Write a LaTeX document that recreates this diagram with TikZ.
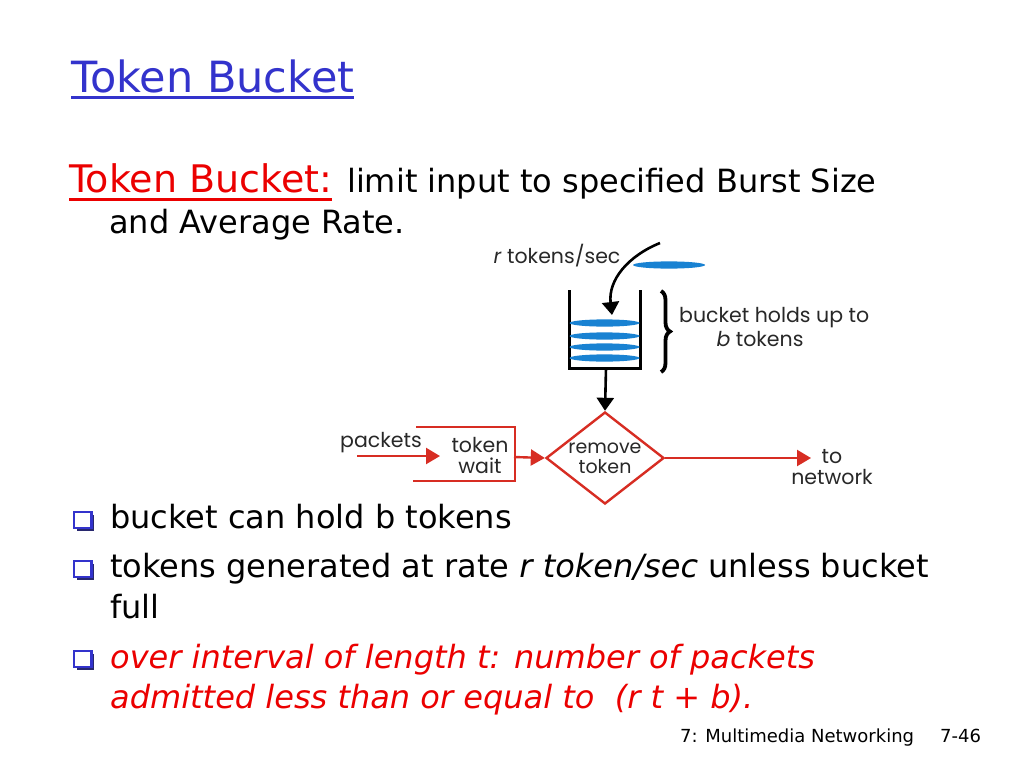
\documentclass[tikz,border=0pt]{standalone}
\usepackage{fontspec}
\setmainfont{DejaVu Sans}
\newfontfamily\diagfont{Poppins}
\usetikzlibrary{arrows.meta,shapes.geometric,decorations.pathreplacing}
\definecolor{titleblue}{RGB}{51,51,204}
\definecolor{textred}{RGB}{235,0,0}
\definecolor{diagred}{RGB}{215,45,35}
\definecolor{tokblue}{RGB}{25,130,210}
\definecolor{diagtext}{RGB}{40,40,40}
\definecolor{bulshadow}{RGB}{40,40,110}
\tikzset{
  txt/.style={inner sep=0pt, anchor=base west},
  big/.style={font=\fontsize{32}{40}\selectfont},
  dtext/.style={inner sep=0pt, text=diagtext, font=\diagfont\fontsize{20.5}{22}\selectfont},
  token/.style={fill=tokblue, draw=none},
  blackarrow/.style={draw=black, line width=2.6pt, -{Triangle[width=17pt,length=13pt]}},
  redarrow/.style={draw=diagred, line width=2.4pt, -{Triangle[width=16pt,length=14pt]}},
  redline/.style={draw=diagred, line width=2.4pt},
  bul/.pic={
    \fill[bulshadow] (2.5,2.5) rectangle (20,18.5);
    \filldraw[fill=white, draw=titleblue, line width=2.6pt] (0,0) rectangle (17.5,16);
  }
}
\begin{document}
\begin{tikzpicture}[x=1pt,y=-1pt]
\useasboundingbox (0,0) rectangle (1024,768);
\fill[white] (0,0) rectangle (1024,768);

% title
\node[txt, text=titleblue, font=\fontsize{43}{50}\selectfont] (title) at (71,92) {Token Bucket};
\draw[titleblue, line width=3pt] ([yshift=-5.5pt]title.base west) -- ([yshift=-5.5pt]title.base east);

% intro
\node[txt, text=textred, font=\fontsize{38}{44}\selectfont] (tb) at (69,192) {Token Bucket:};
\draw[textred, line width=3pt] ([yshift=-7pt]tb.base west) -- ([yshift=-7pt]tb.base east);
\node[txt, big] (lim) at (347,192) {limit input to specified Burst Size};
\node[txt, big] (avg) at (109,233) {and Average Rate.};

% bullets
\pic at (74,512) {bul};
\pic at (74,561) {bul};
\pic at (74,651) {bul};
\node[txt, big] (b1) at (110,528) {bucket can hold b tokens};
\node[txt, big] (b2) at (110,577) {tokens generated at rate \textit{r token/sec} unless bucket};
\node[txt, big] (b2b) at (110,618) {full};
\node[txt, big, text=textred, font=\itshape\fontsize{32}{40}\selectfont] (b3) at (110,668) {over interval of length t: number of packets};
\node[txt, big, text=textred, font=\itshape\fontsize{32}{40}\selectfont] (b3b) at (110,708) {admitted less than or equal to\ \ (r t + b).};

% footer
\node[txt, font=\fontsize{18}{20}\selectfont] (foot) at (680,742) {7: Multimedia Networking};
\node[txt, font=\fontsize{18}{20}\selectfont] (page) at (940,742) {7-46};

% ---- diagram ----
\node[dtext] (rate) at (557,256) {\textit{r} tokens/sec};
\fill[token] (669,265) ellipse [x radius=36, y radius=3.6];

% bucket
\draw[black, line width=3pt] (569,290) -- (569,368) -- (640,368) -- (640,290);
\foreach \yy in {323,336,347,358}
  \fill[token] (604.5,\yy) ellipse [x radius=35, y radius=3.6];
\coordinate (arcstart) at (660,243);
\coordinate (arcend) at (612,315);
\draw[blackarrow] (arcstart) .. controls (628,256) and (608,280) .. (arcend);
\coordinate (bucketbot) at (606,368);

% brace
\draw[black, line width=3.8pt, decorate, decoration={brace, amplitude=9pt}] (661,291) -- (661,372);
\node[dtext, anchor=west] (holds) at (679,318) {bucket holds up to};
\node[dtext] (btok) at (760,339) {\textit{b} tokens};

% remove token
\node[draw=diagred, line width=2.4pt, shape=diamond, minimum width=118pt, minimum height=92pt, inner sep=0pt] (rem) at (605,458) {};
\node[dtext, align=center, font=\diagfont\fontsize{19}{20}\selectfont] (remtxt) at (rem.center) {remove\\token};
\draw[blackarrow] (bucketbot) -- (rem.north);

% token wait
\node[dtext, align=center, font=\diagfont\fontsize{20.5}{21}\selectfont] (wait) at (480,456) {token\\wait};
\draw[redline] (416,427) -- (515,427) -- (515,481) -- (413,481);
\coordinate (waitout) at (514,457);
\coordinate (pkin) at (357,456);
\coordinate (pktip) at (440,456);
\node[dtext] (pk) at (381,443) {packets};
\draw[redarrow] (pkin) -- (pktip);
\draw[redarrow] (waitout) -- (rem.west);

% to network
\coordinate (nettip) at (811,458);
\draw[redarrow] (rem.east) -- (nettip);
\node[dtext] (to) at (832,457) {to};
\node[dtext] (net) at (832,477) {network};
\end{tikzpicture}
\end{document}
